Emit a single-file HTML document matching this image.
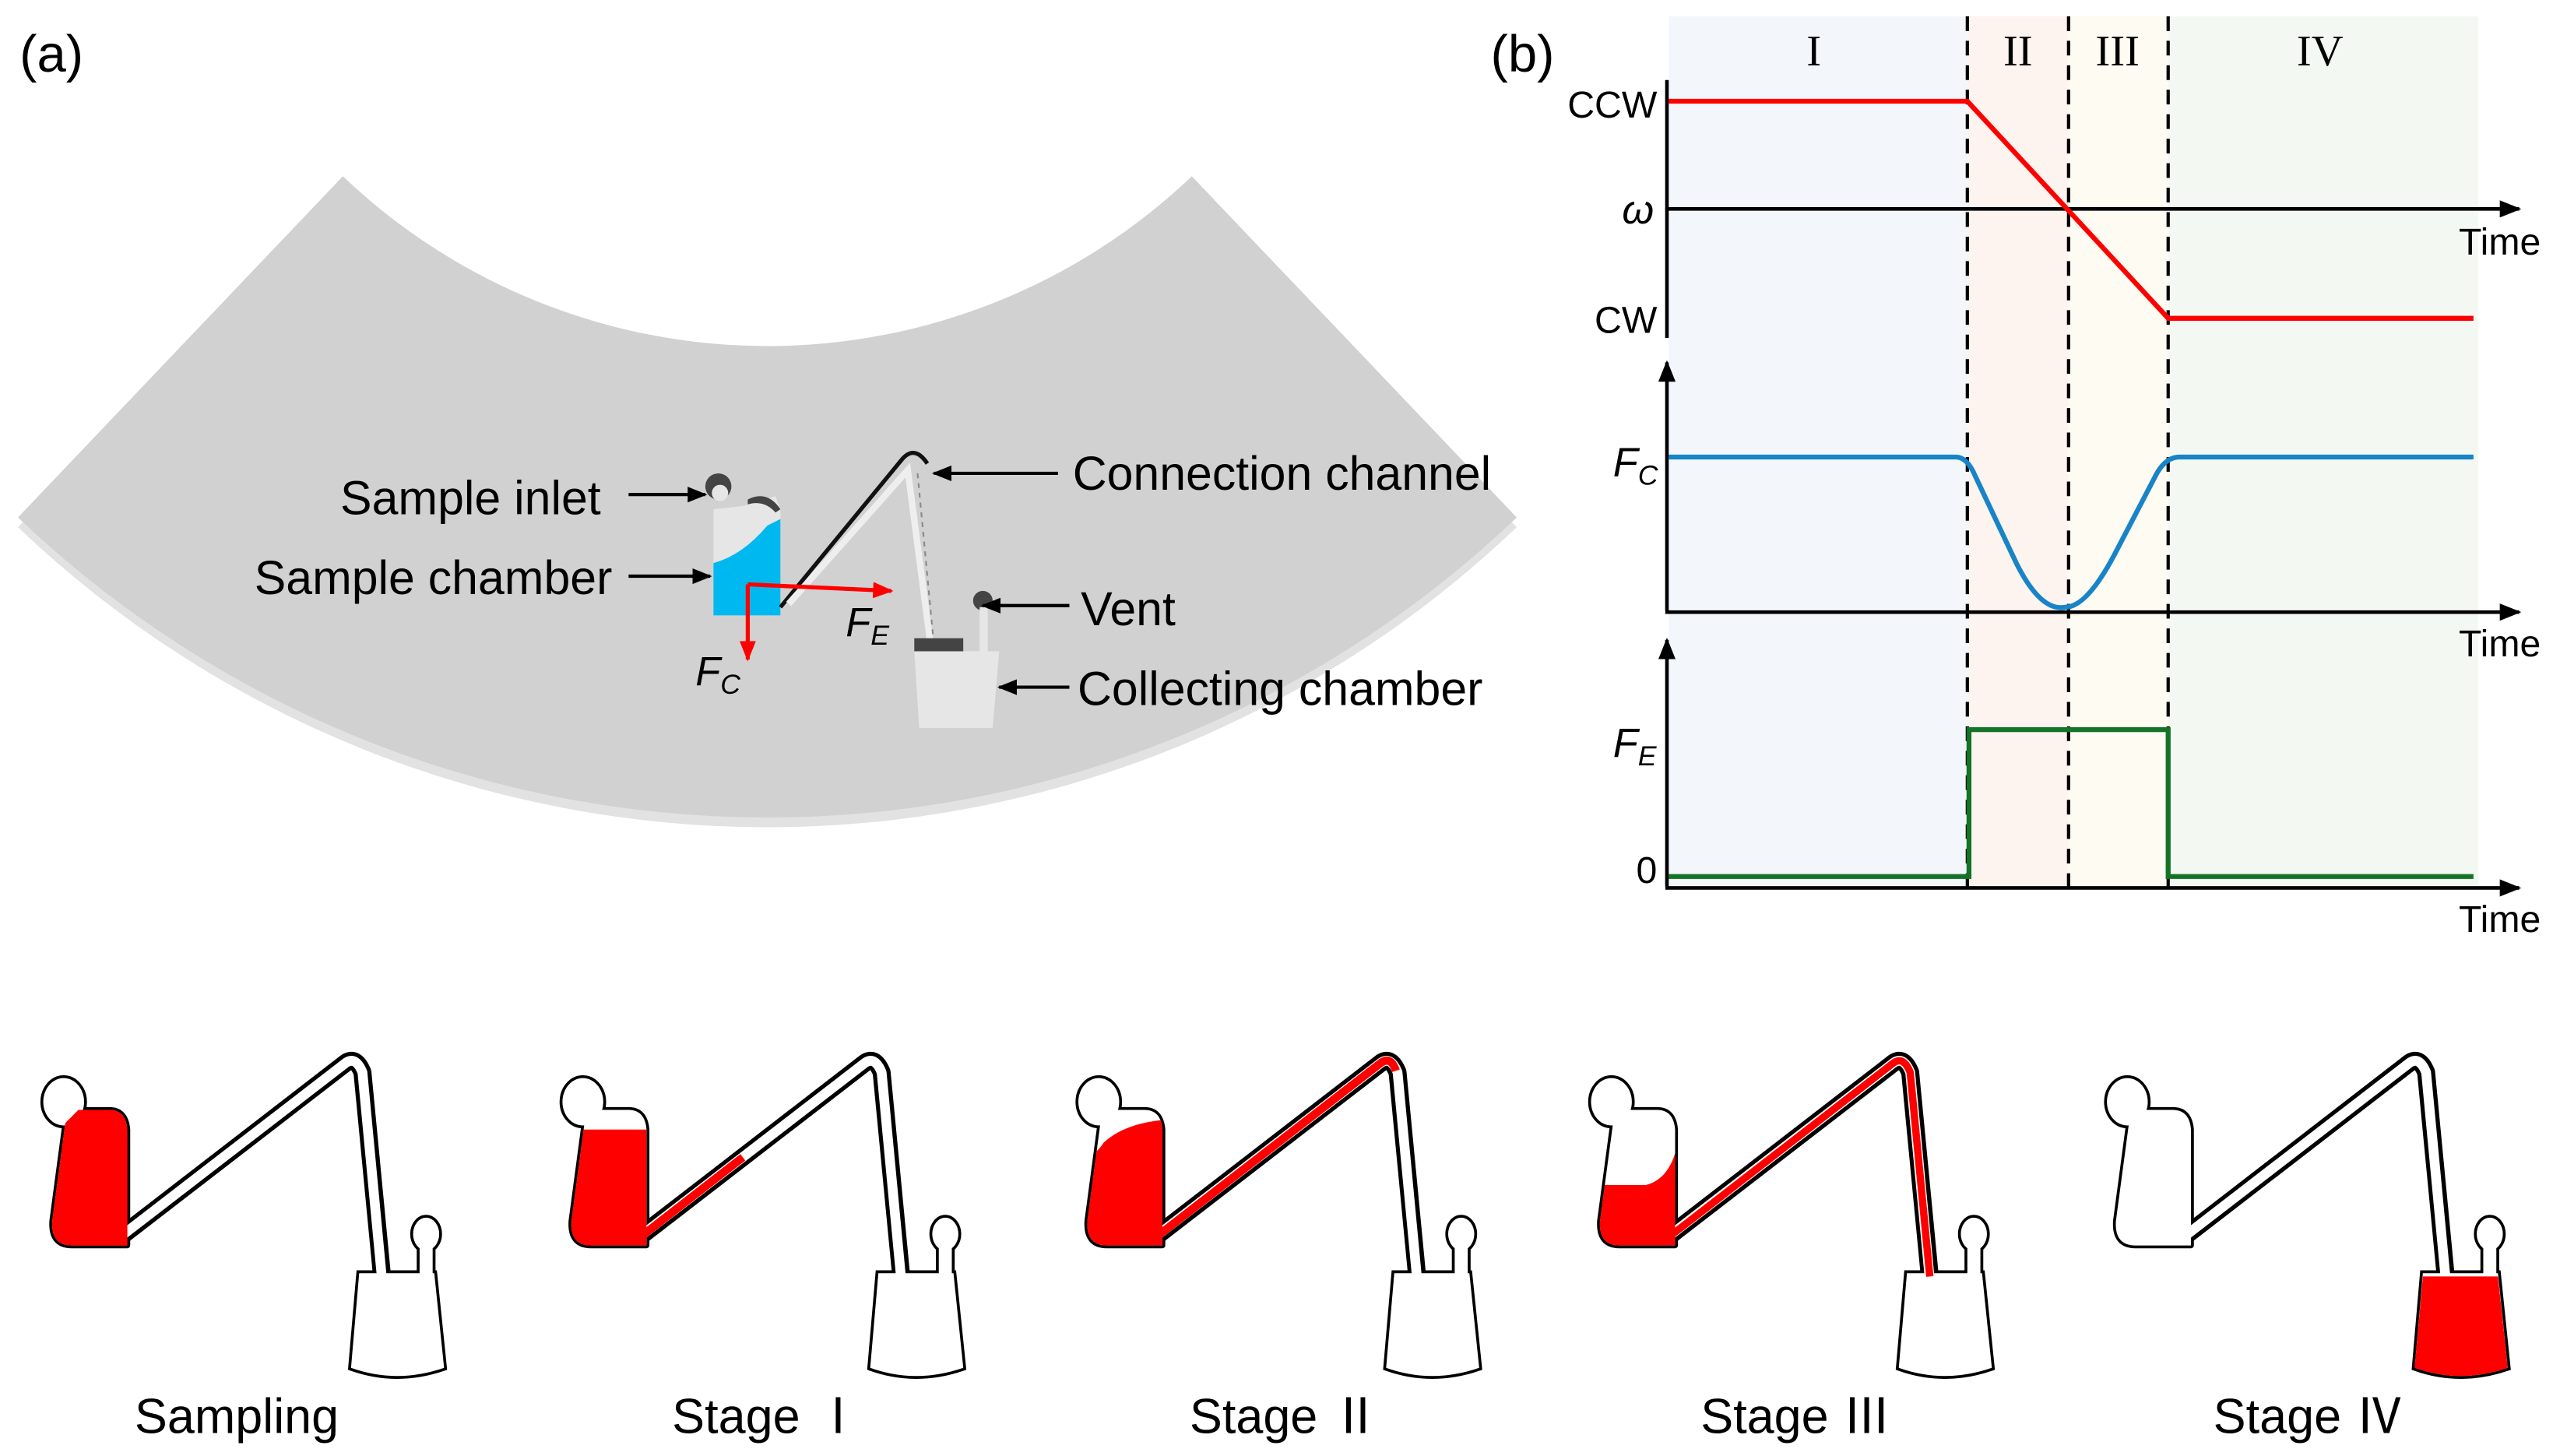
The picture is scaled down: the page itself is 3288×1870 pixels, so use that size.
<!DOCTYPE html>
<html><head><meta charset="utf-8"><style>
html,body{margin:0;padding:0;background:#fff}
svg{display:block}
text{font-family:"Liberation Sans","Noto Sans CJK SC",sans-serif;fill:#000}
</style></head><body>
<svg width="3288" height="1870" viewBox="0 0 1568 892" preserveAspectRatio="none" xmlns="http://www.w3.org/2000/svg">
<defs>
<marker id="ar" viewBox="0 0 10 10" refX="9" refY="5" markerWidth="6" markerHeight="6" orient="auto"><path d="M0,1 L10,5 L0,9 Z" fill="#000"/></marker>
<marker id="rr" viewBox="0 0 10 10" refX="9" refY="5" markerWidth="5" markerHeight="5" orient="auto"><path d="M0,1 L10,5 L0,9 Z" fill="#f00"/></marker>
<clipPath id="ch"><path d="M40,688 L32,748 Q31,763 44,763 L78,763 L78,692 Q77,680 67,680 L48,680 Z"/></clipPath>
<g id="blk">
 <path d="M40,688 L32,748 Q31,763 44,763 L78,763 L78,692 Q77,680 67,680 L48,680 Z" fill="#000" stroke="#000" stroke-width="3.5" stroke-linejoin="round"/>
 <ellipse cx="39" cy="675" rx="12.5" ry="14.5" fill="#000" stroke="#000" stroke-width="3.5"/>
 <path d="M76,756 L212,651 Q218,647 222,657 L234,782" fill="none" stroke="#000" stroke-width="11" stroke-linejoin="round"/>
 <path d="M220,780 L215,838 Q243,848 272,838 L266,780 Z" fill="#000" stroke="#000" stroke-width="3.5"/>
 <ellipse cx="261" cy="756" rx="8" ry="10" fill="#000" stroke="#000" stroke-width="3.5"/>
 <rect x="257" y="762" width="8" height="20" fill="#000" stroke="#000" stroke-width="3.5"/>
</g>
<g id="wht">
 <path d="M40,688 L32,748 Q31,763 44,763 L78,763 L78,692 Q77,680 67,680 L48,680 Z" fill="#fff"/>
 <ellipse cx="39" cy="675" rx="12.5" ry="14.5" fill="#fff"/>
 <path d="M72,759 L212,651 Q218,647 222,657 L234,784" fill="none" stroke="#fff" stroke-width="6" stroke-linejoin="round"/>
 <path d="M220,780 L215,838 Q243,848 272,838 L266,780 Z" fill="#fff"/>
 <ellipse cx="261" cy="756" rx="8" ry="10" fill="#fff"/>
 <rect x="257" y="760" width="8" height="24" fill="#fff"/>
</g>
</defs>

<!-- (a) -->
<text x="12" y="44" font-size="32">(a)</text>
<path d="M210,114 L11,323 A665,665 0 0 0 929,323 L730,114 A377,377 0 0 1 210,114 Z" fill="#e2e2e2"/>
<path d="M210,108 L11,317 A665,665 0 0 0 929,317 L730,108 A377,377 0 0 1 210,108 Z" fill="#d1d1d1"/>
<path d="M437,312 L455,310 L475,304 L478,312 L478,377 L437,377 Z" fill="#e6e6e6"/>
<path d="M437,345 Q455,340 470,322 L478,318 L478,377 L437,377 Z" fill="#00b8f0"/>
<path d="M458,306 Q470,300 478,312 L475,314 Q468,306 458,309 Z" fill="#444"/>
<circle cx="440" cy="298" r="8" fill="#444"/><circle cx="441" cy="302" r="5" fill="#e6e6e6"/>
<path d="M478,372 L552,282 Q560,272 568,284" fill="none" stroke="#111" stroke-width="2.5"/>
<path d="M483,370 L556,288 L570,395" fill="none" stroke="#eee" stroke-width="4"/>
<path d="M562,290 L572,395" fill="none" stroke="#888" stroke-width="1" stroke-dasharray="3,3"/>
<rect x="560" y="391" width="30" height="8" fill="#444"/>
<path d="M560,399 L612,399 L608,446 L563,446 Z" fill="#e6e6e6"/>
<circle cx="602" cy="368" r="6" fill="#444"/>
<rect x="600" y="372" width="5" height="27" fill="#e6e6e6"/>
<path d="M458,358 L546,362" stroke="#f00" stroke-width="2.5" marker-end="url(#rr)"/>
<path d="M458,358 L458,404" stroke="#f00" stroke-width="2.5" marker-end="url(#rr)"/>
<text x="518" y="390" font-size="25" font-style="italic">F<tspan font-size="17" dy="5">E</tspan></text>
<text x="426" y="420" font-size="25" font-style="italic">F<tspan font-size="17" dy="5">C</tspan></text>
<g font-size="29">
<text x="368" y="315" text-anchor="end">Sample inlet</text>
<text x="375" y="364" text-anchor="end">Sample chamber</text>
<text x="657" y="300">Connection channel</text>
<text x="662" y="383">Vent</text>
<text x="660" y="432">Collecting chamber</text>
</g>
<g stroke="#000" stroke-width="2" marker-end="url(#ar)">
<path d="M385,303 L432,303"/><path d="M385,353 L435,353"/>
<path d="M648,290 L572,290"/><path d="M655,371 L602,371"/><path d="M655,421 L612,421"/>
</g>

<!-- (b) -->
<text x="913" y="44" font-size="32">(b)</text>
<rect x="1022" y="10" width="183" height="535" fill="#f3f7fc"/>
<rect x="1205" y="10" width="62" height="535" fill="#fdf3ef"/>
<rect x="1267" y="10" width="61" height="535" fill="#fefbf3"/>
<rect x="1328" y="10" width="190" height="535" fill="#f4f8f2"/>
<g font-size="27" text-anchor="middle">
<text x="1111" y="40" style="font-family:'Liberation Serif',serif">I</text>
<text x="1236" y="40" style="font-family:'Liberation Serif',serif">II</text>
<text x="1297" y="40" style="font-family:'Liberation Serif',serif">III</text>
<text x="1421" y="40" style="font-family:'Liberation Serif',serif">IV</text>
</g>
<g stroke="#000" stroke-width="2" stroke-dasharray="9,6">
<path d="M1205,10 V545"/><path d="M1267,10 V545"/><path d="M1328,10 V545"/>
</g>
<g stroke="#000" stroke-width="2.2" fill="none">
<path d="M1021,49 V207"/>
<path d="M1021,374 V222" marker-end="url(#ar)"/>
<path d="M1021,543 V392" marker-end="url(#ar)"/>
<path d="M1020,128 H1543" marker-end="url(#ar)"/>
<path d="M1020,375 H1543" marker-end="url(#ar)"/>
<path d="M1020,544 H1543" marker-end="url(#ar)"/>
</g>
<path d="M1022,62 H1205 L1328,195 H1515" fill="none" stroke="#f00" stroke-width="3"/>
<path d="M1022,280 H1198 Q1205,280 1210,292 L1235,345 Q1250,375 1265,372 Q1278,372 1295,340 L1320,292 Q1326,280 1335,280 H1515" fill="none" stroke="#1884c8" stroke-width="3"/>
<path d="M1022,537 H1206 V447 H1328 V537 H1515" fill="none" stroke="#137326" stroke-width="3"/>
<g font-size="23">
<text x="1015" y="72" text-anchor="end">CCW</text>
<text x="1015" y="204" text-anchor="end">CW</text>
<text x="1015" y="541" text-anchor="end">0</text>
<text x="1506" y="156">Time</text>
<text x="1506" y="402">Time</text>
<text x="1506" y="571">Time</text>
</g>
<text x="1013" y="137" font-size="25" font-style="italic" text-anchor="end">ω</text>
<text x="988" y="292" font-size="25" font-style="italic">F<tspan font-size="17" dy="5">C</tspan></text>
<text x="988" y="464" font-size="25" font-style="italic">F<tspan font-size="17" dy="5">E</tspan></text>

<!-- bottom row -->
<g><use href="#blk"/><use href="#wht"/>
 <path d="M40,688 L32,748 Q31,763 44,763 L78,763 L78,692 Q77,680 67,680 L48,680 Z" fill="#f00"/></g>
<g transform="translate(318,0)"><use href="#blk"/><use href="#wht"/>
 <rect x="25" y="692" width="60" height="80" fill="#f00" clip-path="url(#ch)"/>
 <path d="M74,758 L137,709" stroke="#f00" stroke-width="5"/></g>
<g transform="translate(634,0)"><use href="#blk"/><use href="#wht"/>
 <path d="M25,701 Q33,714 42,700 Q55,688 80,686 L80,770 L25,770 Z" fill="#f00" clip-path="url(#ch)"/>
 <path d="M74,758 L212,651 Q218,647 221,656" fill="none" stroke="#f00" stroke-width="5" stroke-linejoin="round"/></g>
<g transform="translate(948,0)"><use href="#blk"/><use href="#wht"/>
 <path d="M25,726 L60,726 Q76,722 80,698 L80,770 L25,770 Z" fill="#f00" clip-path="url(#ch)"/>
 <path d="M74,758 L212,651 Q218,647 222,657 L234,782" fill="none" stroke="#f00" stroke-width="4.5" stroke-linejoin="round"/></g>
<g transform="translate(1264,0)"><use href="#blk"/><use href="#wht"/>
 <path d="M220,782 L266,782 L272,838 Q243,848 215,838 Z" fill="#f00"/></g>
<g font-size="30" text-anchor="middle">
<text x="145" y="878">Sampling</text>
<text x="470" y="878">Stage Ⅰ</text>
<text x="787" y="878">Stage Ⅱ</text>
<text x="1100" y="878">Stage Ⅲ</text>
<text x="1414" y="878">Stage Ⅳ</text>
</g>
</svg>
</body></html>
